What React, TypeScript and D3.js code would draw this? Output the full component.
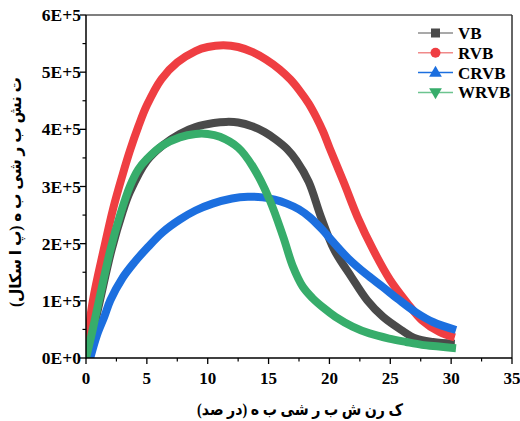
import React from "react";
import * as d3 from "d3";

// Data (x: shear strain %, y: shear stress in units of 1E+5 Pa)
const vbX = [0, 0.5, 1.15, 2.1, 3.0, 3.6, 5.0, 6.3, 7.7, 9.0, 10.5, 11.5, 12.5, 13.7, 14.7, 15.6, 16.5, 17.3, 18.3, 19.3, 20.4, 21.8, 23.1, 24.4, 25.9, 27.1, 28.5, 30.3];
const vbY = [0, 0.4, 1.01, 1.89, 2.55, 2.9, 3.45, 3.72, 3.92, 4.04, 4.11, 4.13, 4.12, 4.05, 3.95, 3.82, 3.66, 3.45, 3.08, 2.47, 1.89, 1.42, 1.01, 0.72, 0.49, 0.34, 0.28, 0.25];

const rvbX = [0, 0.57, 1.45, 2.24, 3.0, 3.6, 4.3, 5.0, 6.2, 7.5, 9.0, 10.0, 11.3, 12.5, 13.7, 14.8, 15.9, 16.8, 17.5, 18.3, 18.9, 19.5, 20.0, 21.2, 22.3, 23.6, 25.0, 26.4, 27.6, 29.0, 30.3];
const rvbY = [0.1, 1.01, 1.89, 2.62, 3.2, 3.62, 4.05, 4.42, 4.88, 5.17, 5.37, 5.44, 5.47, 5.44, 5.35, 5.22, 5.05, 4.87, 4.69, 4.45, 4.22, 3.95, 3.68, 3.06, 2.47, 1.89, 1.36, 0.96, 0.66, 0.46, 0.36];

const crvbX = [0.35, 0.9, 1.5, 2.0, 3.0, 4.0, 5.0, 6.3, 7.7, 9.0, 10.4, 12.0, 13.3, 14.5, 15.5, 16.5, 17.5, 18.4, 19.4, 20.3, 21.6, 23.0, 24.4, 25.7, 27.1, 28.5, 30.4];
const crvbY = [0, 0.4, 0.72, 1.01, 1.4, 1.68, 1.92, 2.2, 2.42, 2.58, 2.7, 2.79, 2.82, 2.81, 2.77, 2.7, 2.6, 2.46, 2.25, 2.03, 1.73, 1.47, 1.24, 1.02, 0.8, 0.63, 0.49];

const wrvbX = [0, 0.5, 1.07, 2.0, 2.8, 3.6, 4.3, 5.0, 6.3, 7.7, 9.0, 10.0, 11.0, 12.5, 13.7, 15.1, 16.2, 17.0, 17.8, 18.6, 19.5, 20.5, 21.9, 23.3, 24.9, 26.3, 27.6, 29.0, 30.4];
const wrvbY = [0, 0.45, 1.01, 1.89, 2.5, 3.0, 3.3, 3.48, 3.72, 3.86, 3.92, 3.92, 3.87, 3.68, 3.35, 2.76, 2.12, 1.6, 1.25, 1.05, 0.88, 0.72, 0.55, 0.43, 0.34, 0.28, 0.23, 0.2, 0.17];

const seriesNames = ["VB", "RVB", "CRVB", "WRVB"];
const seriesColors = ["#4a4a4a", "#ef3e42", "#1c6fdf", "#37ad6b"];
const legendLineColors = ["#8c8c8c", "#f08a8a", "#1c6fdf", "#6cc48f"];
const seriesX = [vbX, rvbX, crvbX, wrvbX];
const seriesY = [vbY, rvbY, crvbY, wrvbY];

const xTicks = [0, 5, 10, 15, 20, 25, 30, 35];
const yTicks = [0, 1, 2, 3, 4, 5, 6];
const yTickLabels = ["0E+0", "1E+5", "2E+5", "3E+5", "4E+5", "5E+5", "6E+5"];

const xTitle = "ک رن ش ب ر شی ب ه (در صد)";
const yTitle = "ت نش ب ر شی ب ه (پ ا سکال)";

const W = 520;
const H = 421;
const left = 86;
const right = 512;
const top = 15;
const bottom = 358;

export default function App() {
  const x = d3.scaleLinear().domain([0, 35]).range([left, right]);
  const y = d3.scaleLinear().domain([0, 6]).range([bottom, top]);
  const line = d3
    .line<[number, number]>()
    .x((d) => x(d[0]))
    .y((d) => y(d[1]))
    .curve(d3.curveCatmullRom.alpha(0.5));

  const font = "'Liberation Serif', 'Times New Roman', serif";
  const titleFont = "'Liberation Serif', 'DejaVu Sans', serif";

  const minorX = d3.range(0, 35, 2.5).filter((v) => v % 5 !== 0);
  const minorY = d3.range(0.5, 6, 1);

  const markerShape = (i: number, cx: number, cy: number, color: string) => {
    if (i === 0) return <rect x={cx - 4.5} y={cy - 4.5} width={9} height={9} fill={color} />;
    if (i === 1) return <circle cx={cx} cy={cy} r={5} fill={color} />;
    if (i === 2)
      return <path d={d3.symbol(d3.symbolTriangle, 70)()!} transform={`translate(${cx},${cy + 0.5})`} fill={color} />;
    return <path d={d3.symbol(d3.symbolTriangle, 70)()!} transform={`translate(${cx},${cy - 0.5}) rotate(180)`} fill={color} />;
  };

  return (
    <svg
      width={W}
      height={H}
      style={{ position: "absolute", left: 0, top: 0, background: "#fff" }}
      xmlns="http://www.w3.org/2000/svg"
    >
      <rect width={W} height={H} fill="#fff" />
      <defs>
        <clipPath id="clip">
          <rect x={left} y={top} width={right - left} height={bottom - top} />
        </clipPath>
      </defs>
      {/* series */}
      <g clipPath="url(#clip)">
        {seriesNames.map((name, i) => {
          const pts: [number, number][] = seriesX[i].map((v, j) => [v, seriesY[i][j]]);
          return (
            <path
              key={name}
              d={line(pts)!}
              fill="none"
              stroke={seriesColors[i]}
              strokeWidth={8}
              strokeLinejoin="round"
              strokeLinecap="butt"
            />
          );
        })}
      </g>
      {/* frame */}
      <line x1={left} x2={right} y1={top} y2={top} stroke="#555" strokeWidth={1.5} />
      <line x1={right} x2={right} y1={top} y2={bottom} stroke="#333" strokeWidth={1.5} />
      <line x1={left} x2={left} y1={top} y2={bottom + 0.75} stroke="#000" strokeWidth={1.5} />
      <line x1={left} x2={right} y1={bottom} y2={bottom} stroke="#000" strokeWidth={1.5} />
      {/* x ticks */}
      {xTicks.map((t) => (
        <g key={"xt" + t}>
          <line x1={x(t)} x2={x(t)} y1={bottom} y2={bottom + 6} stroke="#000" strokeWidth={1.3} />
          <text x={x(t)} y={384} textAnchor="middle" fontFamily={font} fontWeight="bold" fontSize={17}>
            {t}
          </text>
        </g>
      ))}
      {minorX.map((t) => (
        <line key={"xm" + t} x1={x(t)} x2={x(t)} y1={bottom} y2={bottom + 3.5} stroke="#000" strokeWidth={1.2} />
      ))}
      {/* y ticks */}
      {yTicks.map((t, i) => (
        <g key={"yt" + t}>
          <line x1={left - 6} x2={left} y1={y(t)} y2={y(t)} stroke="#000" strokeWidth={1.3} />
          <text x={81} y={y(t) + 6} textAnchor="end" fontFamily={font} fontWeight="bold" fontSize={17.5}>
            {yTickLabels[i]}
          </text>
        </g>
      ))}
      {minorY.map((t) => (
        <line key={"ym" + t} x1={left - 3.5} x2={left} y1={y(t)} y2={y(t)} stroke="#000" strokeWidth={1.2} />
      ))}
      {/* axis titles */}
      <text
        x={300}
        y={415}
        textAnchor="middle"
        fontFamily={titleFont}
        fontWeight="bold"
        fontSize={16}
        direction="rtl"
        textLength={206}
        lengthAdjust="spacingAndGlyphs"
      >
        {xTitle}
      </text>
      <text
        transform={`translate(21,192) rotate(-90)`}
        textAnchor="middle"
        fontFamily={titleFont}
        fontWeight="bold"
        fontSize={16}
        direction="rtl"
        textLength={230}
        lengthAdjust="spacingAndGlyphs"
      >
        {yTitle}
      </text>
      {/* legend */}
      {seriesNames.map((name, i) => {
        const ly = 33 + i * 19.8;
        return (
          <g key={"lg" + name}>
            <line x1={418} x2={453} y1={ly} y2={ly} stroke={legendLineColors[i]} strokeWidth={1.5} />
            {markerShape(i, 435.5, ly, seriesColors[i])}
            <text x={458} y={ly + 6} fontFamily={font} fontWeight="bold" fontSize={17}>
              {name}
            </text>
          </g>
        );
      })}
    </svg>
  );
}
